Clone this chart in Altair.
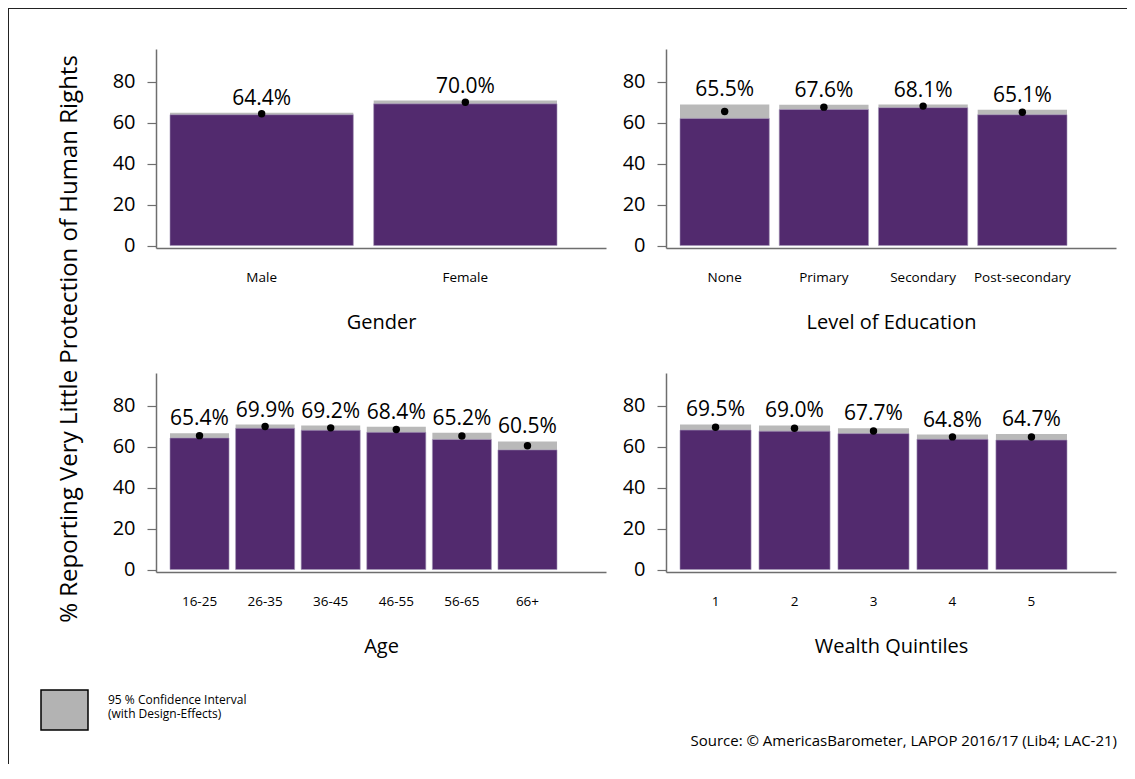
import altair as alt
import pandas as pd

FONT = "Open Sans"
PURPLE = "#522a6e"
GRAY = "#b9b9b9"
AXIS_COLOR = "#6e6e6e"

gender_cats = ["Male", "Female"]
gender_mean = [64.4, 70.0]
gender_lo = [63.9, 69.2]
gender_hi = [64.9, 70.8]

edu_cats = ["None", "Primary", "Secondary", "Post-secondary"]
edu_mean = [65.5, 67.6, 68.1, 65.1]
edu_lo = [62.1, 66.45, 67.35, 63.9]
edu_hi = [68.9, 68.75, 68.85, 66.3]

age_cats = ["16-25", "26-35", "36-45", "46-55", "56-65", "66+"]
age_mean = [65.4, 69.9, 69.2, 68.4, 65.2, 60.5]
age_lo = [64.25, 69.0, 68.05, 67.0, 63.55, 58.45]
age_hi = [66.55, 70.8, 70.35, 69.8, 66.85, 62.55]

wealth_cats = ["1", "2", "3", "4", "5"]
wealth_mean = [69.5, 69.0, 67.7, 64.8, 64.7]
wealth_lo = [68.1, 67.6, 66.4, 63.65, 63.25]
wealth_hi = [70.9, 70.4, 69.0, 65.95, 66.15]

y_ticks = [0, 20, 40, 60, 80]
panel_titles = ["Gender", "Level of Education", "Age", "Wealth Quintiles"]
y_title = "% Reporting Very Little Protection of Human Rights"
legend_line1 = "95 % Confidence Interval"
legend_line2 = "(with Design-Effects)"
source_text = "Source: \u00a9 AmericasBarometer, LAPOP 2016/17 (Lib4; LAC-21)"

PW, PH = 450, 199
BARS_SPAN = 387
LEFT_GAP = 14
TOTAL_W = 1119
TOP_H = 40
MID_H = 630
FOOT_H = 85
BORDER = "#222222"


def panel(cats, mean, lo, hi, title):
    df = pd.DataFrame({"cat": cats, "mean": mean, "lo": lo, "hi": hi})
    df["label"] = [f"{m:.1f}%" for m in mean]
    n = len(cats)
    p_outer = (n - 0.1) * (PW - BARS_SPAN) / (2 * BARS_SPAN)
    align = LEFT_GAP / (PW - BARS_SPAN)
    x = alt.X(
        "cat:N",
        sort=cats,
        scale=alt.Scale(paddingInner=0.1, paddingOuter=p_outer, align=align),
        axis=alt.Axis(
            title=title,
            labelAngle=0,
            ticks=False,
            labelPadding=22,
            titlePadding=29,
            labelFontSize=13.5,
            titleFontSize=20,
        ),
    )
    ys = alt.Scale(domain=[-1.2, 96], nice=False, zero=False)
    yax = alt.Axis(
        title=None,
        values=y_ticks,
        tickSize=9,
        labelPadding=12,
        grid=False,
        labelFontSize=20,
    )
    base = alt.Chart(df)
    gray = base.mark_bar(color=GRAY).encode(
        x=x, y=alt.Y("hi:Q", scale=ys, axis=yax), y2="lo:Q"
    )
    purple = base.mark_bar(color=PURPLE, stroke="#a395b5", strokeWidth=0.6).encode(
        x=x, y="lo:Q", y2=alt.datum(0)
    )
    dots = base.mark_point(filled=True, color="black", size=55, opacity=1).encode(
        x=x, y="mean:Q"
    )
    labels = base.mark_text(
        font=FONT, fontSize=21, dy=-8, baseline="alphabetic", color="black"
    ).encode(x=x, y="hi:Q", text="label:N")
    return alt.layer(gray, purple, dots, labels).properties(width=PW, height=PH)


p1 = panel(gender_cats, gender_mean, gender_lo, gender_hi, panel_titles[0])
p2 = panel(edu_cats, edu_mean, edu_lo, edu_hi, panel_titles[1])
p3 = panel(age_cats, age_mean, age_lo, age_hi, panel_titles[2])
p4 = panel(wealth_cats, wealth_mean, wealth_lo, wealth_hi, panel_titles[3])

grid = alt.vconcat(
    alt.hconcat(p1, p2, spacing=16),
    alt.hconcat(p3, p4, spacing=16),
    spacing=40,
)

one = pd.DataFrame({"t": [y_title]})


def vline(h, y0=0):
    return alt.Chart(one).mark_rect(fill=BORDER, strokeWidth=0).encode(
        x=alt.value(0), x2=alt.value(1), y=alt.value(y0), y2=alt.value(h)
    )


# top border row
border_top = alt.layer(
    alt.Chart(one).mark_rect(fill=BORDER, strokeWidth=0).encode(
        x=alt.value(0), x2=alt.value(TOTAL_W), y=alt.value(0), y2=alt.value(1)
    ),
    vline(TOP_H),
).properties(width=TOTAL_W, height=TOP_H)

W = 104
ylab = alt.layer(
    alt.Chart(one)
    .mark_text(angle=270, fontSize=24, font=FONT, color="black")
    .encode(text="t:N", x=alt.value(62), y=alt.value(290)),
    vline(MID_H, -1),
).properties(width=W, height=MID_H)

top = alt.hconcat(ylab, grid, spacing=0)

fdf = pd.DataFrame(
    {"l1": [legend_line1], "l2": [legend_line2], "source": [source_text]}
)
fbase = alt.Chart(fdf)
rect = fbase.mark_rect(fill="#b3b3b3", stroke="black", strokeWidth=1.5).encode(
    x=alt.value(33), x2=alt.value(80), y=alt.value(11), y2=alt.value(51)
)
l1 = fbase.mark_text(
    font=FONT, fontSize=12, align="left", baseline="middle", color="black"
).encode(text="l1:N", x=alt.value(100), y=alt.value(20.5))
l2 = fbase.mark_text(
    font=FONT, fontSize=12, align="left", baseline="middle", color="black"
).encode(text="l2:N", x=alt.value(100), y=alt.value(34.5))
stxt = fbase.mark_text(
    font=FONT, fontSize=15, align="right", baseline="middle", color="black"
).encode(text="source:N", x=alt.value(1109), y=alt.value(62))
footer = alt.layer(rect, l1, l2, stxt, vline(FOOT_H)).properties(
    width=1110, height=FOOT_H
)

chart = (
    alt.vconcat(border_top, top, footer, spacing=0)
    .properties(padding=0)
    .configure_view(stroke=None)
    .configure_axis(
        labelFont=FONT,
        titleFont=FONT,
        labelColor="black",
        titleColor="black",
        titleFontWeight="normal",
        domainColor=AXIS_COLOR,
        domainWidth=1.5,
        tickColor=AXIS_COLOR,
        tickWidth=1.2,
    )
)

chart.save("out.html", embed_options={"renderer": "svg", "actions": False})
